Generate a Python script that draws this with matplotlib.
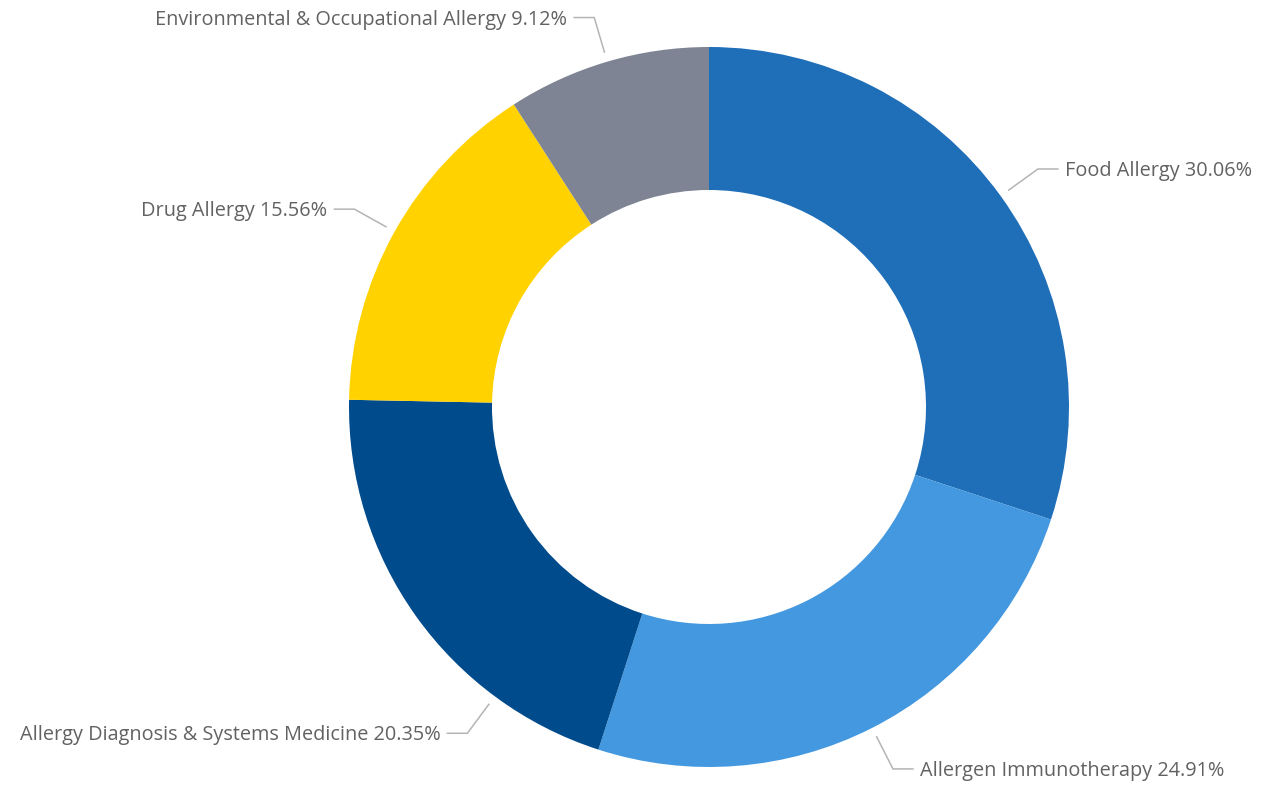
import numpy as np
import matplotlib
matplotlib.use('Agg')
import matplotlib.pyplot as plt

# data
categories = ['Food Allergy', 'Allergen Immunotherapy',
              'Allergy Diagnosis & Systems Medicine', 'Drug Allergy',
              'Environmental & Occupational Allergy']
shares = [30.06, 24.91, 20.35, 15.56, 9.12]
colors = ['#1F6EB8', '#4398E0', '#004B8C', '#FFD200', '#7E8494']

# label anchor nudges (degrees), the renderer moved one label off mid-angle
label_shift = [0, 0, 18, 0, 0]

W, H = 1274, 786
cx, cy = 709, H - 407
r_out, ring = 360, 143

fig = plt.figure(figsize=(W / 100, H / 100), dpi=100)
ax = fig.add_axes([0, 0, 1, 1])

wedges, _ = ax.pie(shares, colors=colors, startangle=90, counterclock=False,
                   center=(cx, cy), radius=r_out,
                   wedgeprops=dict(width=ring, linewidth=0))

# pie() resets the limits, so set them afterwards
ax.set_xlim(0, W)
ax.set_ylim(0, H)
ax.set_aspect('equal')
ax.axis('off')

line_col = '#B4B4B4'
text_col = '#626262'
for w, name, val, sh in zip(wedges, categories, shares, label_shift):
    ang = np.deg2rad((w.theta1 + w.theta2) / 2 + sh)
    x0, y0 = cx + 370 * np.cos(ang), cy + 370 * np.sin(ang)
    x1, y1 = cx + 406 * np.cos(ang), cy + 406 * np.sin(ang)
    d = 1 if np.cos(ang) > 0 else -1
    x2 = x1 + d * 20
    ax.plot([x0, x1, x2], [y0, y1, y1], color=line_col, lw=1.1,
            solid_joinstyle='miter')
    ax.text(x2 + d * 7, y1 - 2, '%s %.2f%%' % (name, val),
            ha='left' if d > 0 else 'right', va='center',
            fontsize=14.3, color=text_col, family='Open Sans')

fig.savefig('out.png', dpi=100)
